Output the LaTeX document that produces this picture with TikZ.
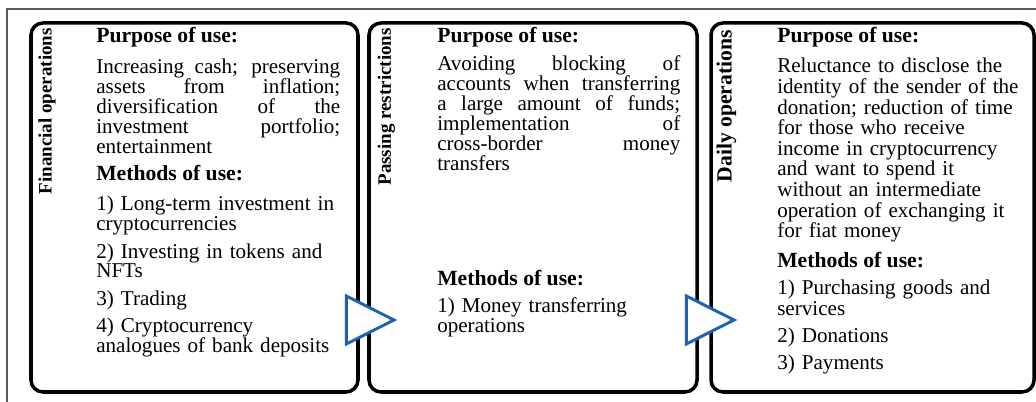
\documentclass[tikz,border=0pt]{standalone}
\usepackage{fontspec}
\setmainfont{Liberation Serif}

\definecolor{tipblue}{RGB}{31,99,176}

% no hyphens, loose lines allowed, tight leading
\hyphenpenalty=10000
\tolerance=10000
\lineskiplimit=-5pt

\tikzset{
	frame/.style={draw=black!65, line width=1.2pt},
	panel/.style={line width=2.5pt, rounded corners=0.3cm},
	flowtip/.style={draw=tipblue, fill=white, line width=2.1pt, line join=miter},
	sidelabel/.style={rotate=90, anchor=east, inner sep=0pt, font=\bfseries\fontsize{13.5}{16}\selectfont},
	heading/.style={anchor=base west, inner sep=0pt, font=\bfseries\fontsize{15.4}{14.1}\selectfont},
	bodypara/.style={anchor=base west, inner sep=0pt, text width=#1, align=justify,
		font=\fontsize{15}{14.1}\selectfont},
	itemlist/.style={anchor=base west, inner sep=0pt, text width=#1, align=left,
		font=\fontsize{15}{14.1}\selectfont},
}

\begin{document}
\begin{tikzpicture}
		\useasboundingbox (0,0) rectangle (25.9,10.05);
		\clip (0,0) rectangle (25.9,10.05);
		\draw[frame] (0.175,9.825) rectangle (26.2,-0.3);

		% the three panels
		\draw[panel] (0.775,9.475) rectangle (8.95,0.25);
		\draw[panel] (9.225,9.475) rectangle (17.425,0.25);
		\draw[panel] (17.775,9.475) rectangle (25.85,0.25);

		% side titles
		\node[sidelabel] (finLabel) at (1.175,9.35) {Financial operations};
		\node[sidelabel] (passLabel) at (9.66,9.35) {Passing restrictions};
		\node[sidelabel, font=\bfseries\fontsize{15.4}{16}\selectfont] (dailyLabel) at (18.16,9.3) {Daily operations};

		% financial operations
		\node[heading] (finPurpose) at (2.4,8.975) {Purpose of use:};
		\node[bodypara=6.1cm] (finPurposeText) at (2.4,8.2)
			{Increasing cash; preserving\linebreak assets from inflation;\linebreak diversification of the\linebreak investment portfolio;\linebreak entertainment};
		\node[heading] (finMethods) at (2.4,5.525) {Methods of use:};
		\node[itemlist=6.2cm] (finMethodsText) at (2.4,4.775)
			{1) Long-term investment in\\ cryptocurrencies\\[5.3pt]
			 2) Investing in tokens and\\ NFTs\\[5.3pt]
			 3) Trading\\[5.3pt]
			 4) Cryptocurrency\\ analogues of bank deposits};

		% passing restrictions
		\node[heading] (passPurpose) at (10.925,8.975) {Purpose of use:};
		\node[bodypara=6.075cm] (passPurposeText) at (10.925,8.275)
			{Avoiding blocking of\linebreak accounts when transferring\linebreak a large amount of funds;\linebreak implementation of\linebreak cross-border money\linebreak transfers};
		\node[heading] (passMethods) at (10.925,2.9) {Methods of use:};
		\node[itemlist=6.075cm] (passMethodsText) at (10.925,2.225)
			{1) Money transferring\\ operations};

		% daily operations
		\node[heading] (dailyPurpose) at (19.425,8.975) {Purpose of use:};
		\node[itemlist=6.2cm, font=\fontsize{15}{14.65}\selectfont] (dailyPurposeText) at (19.425,8.225)
			{Reluctance to disclose the\\ identity of the sender of the\\ donation; reduction of time\\ for those who receive\\ income in cryptocurrency\\ and want to spend it\\ without an intermediate\\ operation of exchanging it\\ for fiat money};
		\node[heading] (dailyMethods) at (19.425,3.35) {Methods of use:};
		\node[itemlist=6.2cm, font=\fontsize{15}{14.65}\selectfont] (dailyMethodsText) at (19.425,2.675)
			{1) Purchasing goods and\\ services\\[4.5pt]
			 2) Donations\\[4.5pt]
			 3) Payments};

		% blue markers between the panels
		\coordinate (tipA) at (8.66,2.05);
		\coordinate (tipB) at (17.16,2.05);
		\draw[flowtip] (tipA) ++(0,0.6) -- ++(1.19,-0.6) -- ++(-1.19,-0.6) -- cycle;
		\draw[flowtip] (tipB) ++(0,0.6) -- ++(1.19,-0.6) -- ++(-1.19,-0.6) -- cycle;
	\end{tikzpicture}
\end{document}
